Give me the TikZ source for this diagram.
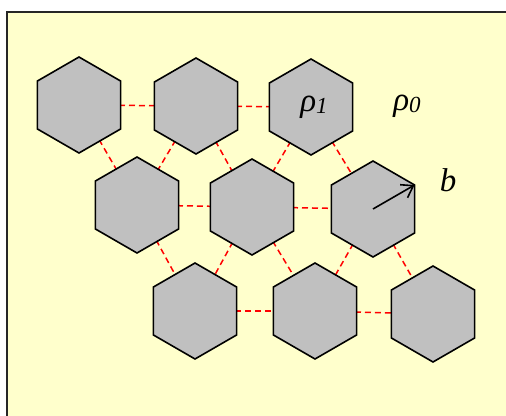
\documentclass[tikz,border=0pt]{standalone}
\usepackage{fontspec}
\setmainfont{Liberation Serif}
\usepackage{tikz}
\usetikzlibrary{shapes, arrows, arrows.meta, positioning, calc}
\definecolor{paleyellow}{HTML}{FFFFCC}
\definecolor{hexgray}{HTML}{C0C0C0}

\begin{document}
\begin{tikzpicture}[x=1pt, y=1pt,
  hexa/.style={regular polygon, regular polygon sides=6, shape border rotate=30,
    minimum size=96pt, inner sep=0pt, draw=black, line width=1.6pt, fill=hexgray},
  bond/.style={red, dash pattern=on 6pt off 4pt, line width=1.5pt},
  lbl/.style={font=\fontsize{33}{36}\selectfont\itshape, inner sep=0pt}]
\clip (0,0) rectangle (506,-415);
\draw[fill=paleyellow, draw=black!85, line width=2pt] (7,-12) rectangle (530,-440);

% lattice sites
\foreach \n/\x/\y in {1/79/105, 2/196/106, 3/311/107, 4/137/205, 5/252/207,
                      6/373/209, 7/195/311, 8/315/311, 9/433/314} {
  \coordinate (c\n) at (\x,-\y);
}

% bonds between neighbours
\foreach \a/\b in {1/2,2/3,4/5,5/6,7/8,8/9,1/4,2/4,2/5,3/5,3/6,4/7,5/7,5/8,6/8,6/9} {
  \draw[bond] (c\a) -- (c\b);
}

% hexagons
\foreach \n in {1,...,9} {
  \node[hexa] (h\n) at (c\n) {};
}

\node[lbl] (rho1) at ($(h3.center)+(3,0)$) {ρ\raisebox{-0.15ex}{\fontsize{23}{24}\selectfont 1}};
\node[lbl] (rho0) at (407,-106) {ρ\raisebox{-0.15ex}{\fontsize{23}{24}\selectfont 0}};
\node[lbl] (blbl) at (448,-180) {b};

\draw[-{Straight Barb[length=11pt, width=15pt]}, line width=1.6pt]
  (h6.center) -- ($(h6.center)+(30:48)$);
\end{tikzpicture}
\end{document}
